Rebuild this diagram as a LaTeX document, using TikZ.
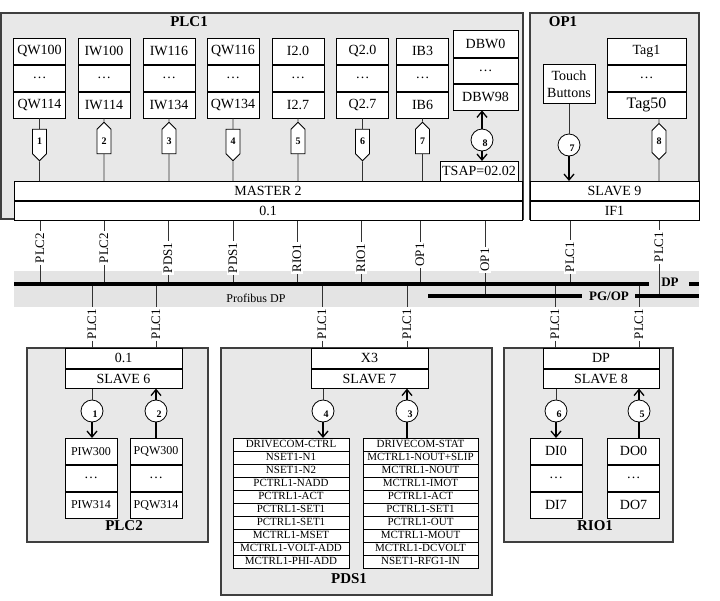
\documentclass[tikz,border=0pt]{standalone}
\usepackage{fontspec}
\setmainfont{Liberation Serif}
\usepackage{tikz}
\usetikzlibrary{arrows.meta, positioning, shapes.symbols, calc}
\usepackage{xcolor}
\definecolor{GFill}{HTML}{E8E8E8}
\definecolor{GLine}{HTML}{3F3F3F}
\definecolor{BusGray}{HTML}{E4E4E4}

\begin{document}
\begin{tikzpicture}[x=1pt, y=-1pt, >={Straight Barb[length=6pt, width=10pt]},
  font=\fontsize{14}{17}\selectfont,
  grpbox/.style={draw=GLine, fill=GFill, line width=1.3pt},
  grplabel/.style={font=\fontsize{15}{17}\selectfont\bfseries},
  regcell/.style={draw, fill=white, line width=0.8pt, minimum width=52pt, minimum height=26pt, inner sep=0pt, anchor=north},
  slotbar/.style={draw, fill=white, line width=0.8pt, minimum height=19pt, inner sep=0pt, anchor=north},
  listrow/.style={draw, fill=white, line width=0.8pt, minimum height=13pt, text height=8pt, text depth=2pt, inner sep=0pt, anchor=north, font=\fontsize{11}{12}\selectfont},
  sigtag/.style={signal, draw, fill=white, line width=0.8pt, signal pointer angle=90, minimum width=14pt, minimum height=27pt, inner sep=0pt, font=\fontsize{10}{12}\selectfont\bfseries},
  hubcirc/.style={circle, draw, fill=white, line width=0.8pt, minimum size=22pt, inner sep=0pt},
  circnum/.style={font=\fontsize{10}{12}\selectfont\bfseries, inner sep=0pt},
  wire/.style={line width=0.9pt, black!80},
  flowline/.style={line width=1.3pt},
  buslabel/.style={rotate=90, fill=white, inner sep=1.5pt, font=\fontsize{13}{15}\selectfont},
  busline/.style={line width=3.5pt}
]
  \useasboundingbox (0,0) rectangle (720,600);

  % PLC1
  \draw[grpbox] (1,13) rectangle (523,219);
  \node[grplabel] (plc1) at (189,22) {PLC1};
  \node[slotbar, minimum width=508pt] (master) at (268,181) {MASTER 2};
  \node[slotbar, minimum width=508pt] (maddr) at (master.south) {0.1};
  \foreach \n/\px/\ta/\tb/\sd in {1/39.5/QW100/QW114/south, 2/104/IW100/IW114/north,
      3/169/IW116/IW134/north, 4/233/QW116/QW134/south, 5/298/I2.0/I2.7/north,
      6/362.5/Q2.0/Q2.7/south, 7/422.5/IB3/IB6/north}{
    \node[regcell] (ra\n) at (\px,38) {\ta};
    \node[regcell] (rb\n) at (ra\n.south) {\dots};
    \node[regcell] (rc\n) at (rb\n.south) {\tb};
    \node[sigtag, signal to=\sd] (sg\n) at (\px,141.5) {\n};
    \draw[wire] (rc\n) -- (sg\n) -- (sg\n |- master.north);
  }
  \node[regcell, minimum width=65pt, minimum height=27pt] (dbwA) at (485.5,30) {DBW0};
  \node[regcell, minimum width=65pt, minimum height=25pt] (dbwB) at (dbwA.south) {\dots};
  \node[regcell, minimum width=65pt] (dbwC) at (dbwB.south) {DBW98};
  \node[regcell, minimum width=78pt, minimum height=20pt] (tsap) at (479,161) {TSAP=02.02};
  \node[hubcirc] (hc8) at (482,140) {};
  \node[circnum] (n8) at ($(hc8)+(3,3)$) {8};
  \draw[flowline, ->] (hc8) -- (hc8 |- dbwC.south);
  \draw[flowline, ->] (hc8) -- (hc8 |- tsap.north);

  % OP1
  \draw[grpbox] (530,13) rectangle (699,219);
  \node[grplabel] (op1) at (563,22) {OP1};
  \node[slotbar, minimum width=169pt] (slave9) at (614.5,181) {SLAVE 9};
  \node[slotbar, minimum width=169pt] (if1) at (slave9.south) {IF1};
  \node[regcell, minimum height=39pt, align=center] (touch) at (569,64) {Touch\\Buttons};
  \node[regcell, minimum width=79pt] (tgA) at (646.5,38) {Tag1};
  \node[regcell, minimum width=79pt] (tgB) at (tgA.south) {\dots};
  \node[regcell, minimum width=79pt, font=\fontsize{16}{18}\selectfont] (tgC) at (tgB.south) {Tag50};
  \node[hubcirc] (hc7) at (569,145) {};
  \node[circnum] (n7) at ($(hc7)+(3,3)$) {7};
  \node[sigtag, signal to=north and south] (sg8) at (659,141.5) {8};
  \draw[wire] (touch) -- (hc7);
  \draw[flowline, ->] (hc7) -- (hc7 |- slave9.north);
  \draw[wire] (sg8 |- tgC.south) -- (sg8) -- (sg8 |- slave9.north);

  % Profibus
  \fill[BusGray] (14,271) rectangle (699,307);
  \node[font=\fontsize{12}{14}\selectfont] (pdp) at (256,298) {Profibus DP};
  \node[font=\fontsize{13}{15}\selectfont\bfseries] (dpname) at (670,282) {DP};
  \node[font=\fontsize{13}{15}\selectfont\bfseries] (pgname) at (609,296) {PG/OP};
  \coordinate (dpA) at (14,284);
  \coordinate (dpB) at (649,284);
  \coordinate (dpC) at (689,284);
  \coordinate (dpD) at (699,284);
  \coordinate (pgA) at (428,296);
  \coordinate (pgB) at (582,296);
  \coordinate (pgC) at (635,296);
  \coordinate (pgD) at (699,296);

  % PLC2
  \draw[grpbox] (27,348) rectangle (208,542);
  \node[grplabel] (plc2) at (124,526) {PLC2};
  \node[slotbar, minimum width=117pt, minimum height=20pt] (slv6id) at (123.5,348) {0.1};
  \node[slotbar, minimum width=117pt] (slv6) at (slv6id.south) {SLAVE 6};
  \node[hubcirc] (hc1) at (92,411) {};
  \node[circnum] (n1) at ($(hc1)+(3,3)$) {1};
  \node[hubcirc] (hc2) at (156,411) {};
  \node[circnum] (n2) at ($(hc2)+(3,3)$) {2};
  \node[regcell, font=\fontsize{12}{14}\selectfont] (piwA) at (91,438) {PIW300};
  \node[regcell] (piwB) at (piwA.south) {\dots};
  \node[regcell, font=\fontsize{12}{14}\selectfont] (piwC) at (piwB.south) {PIW314};
  \node[regcell, font=\fontsize{12}{14}\selectfont] (pqwA) at (156,438) {PQW300};
  \node[regcell] (pqwB) at (pqwA.south) {\dots};
  \node[regcell, font=\fontsize{12}{14}\selectfont] (pqwC) at (pqwB.south) {PQW314};
  \draw[wire] (hc1 |- slv6.south) -- (hc1);
  \draw[flowline, ->] (hc1) -- (hc1 |- piwA.north);
  \draw[flowline] (hc2 |- pqwA.north) -- (hc2);
  \draw[flowline, ->] (hc2) -- (hc2 |- slv6.south);

  % PDS1
  \draw[grpbox] (221,348) rectangle (492,595);
  \node[grplabel] (pds1) at (349,579) {PDS1};
  \node[slotbar, minimum width=117pt, minimum height=20pt] (slv7id) at (369.5,348) {X3};
  \node[slotbar, minimum width=117pt] (slv7) at (slv7id.south) {SLAVE 7};
  \node[hubcirc] (hc4) at (323,411) {};
  \node[circnum] (n4) at ($(hc4)+(3,3)$) {4};
  \node[hubcirc] (hc3) at (407,411) {};
  \node[circnum] (n3) at ($(hc3)+(3,3)$) {3};
  \foreach \t [count=\i] in {DRIVECOM-CTRL, NSET1-N1, NSET1-N2, PCTRL1-NADD, PCTRL1-ACT,
      PCTRL1-SET1, PCTRL1-SET1, MCTRL1-MSET, MCTRL1-VOLT-ADD, MCTRL1-PHI-ADD}
    \node[listrow, minimum width=116pt] (ctl\i) at (291,{438+13*(\i-1)}) {\t};
  \foreach \t [count=\i] in {DRIVECOM-STAT, MCTRL1-NOUT+SLIP, MCTRL1-NOUT, MCTRL1-IMOT, PCTRL1-ACT,
      PCTRL1-SET1, PCTRL1-OUT, MCTRL1-MOUT, MCTRL1-DCVOLT, NSET1-RFG1-IN}
    \node[listrow, minimum width=115pt] (sts\i) at (420.5,{438+13*(\i-1)}) {\t};
  \draw[wire] (hc4 |- slv7.south) -- (hc4);
  \draw[flowline, ->] (hc4) -- (hc4 |- ctl1.north);
  \draw[flowline] (hc3 |- sts1.north) -- (hc3);
  \draw[flowline, ->] (hc3) -- (hc3 |- slv7.south);

  % RIO1
  \draw[grpbox] (504,348) rectangle (673,542);
  \node[grplabel] (rio1) at (595,526) {RIO1};
  \node[slotbar, minimum width=116pt, minimum height=20pt] (slv8id) at (601,348) {DP};
  \node[slotbar, minimum width=116pt] (slv8) at (slv8id.south) {SLAVE 8};
  \node[hubcirc] (hc6) at (556,411) {};
  \node[circnum] (n6) at ($(hc6)+(3,3)$) {6};
  \node[hubcirc] (hc5) at (639,411) {};
  \node[circnum] (n5) at ($(hc5)+(3,3)$) {5};
  \node[regcell] (diA) at (556,438) {DI0};
  \node[regcell] (diB) at (diA.south) {\dots};
  \node[regcell] (diC) at (diB.south) {DI7};
  \node[regcell] (doA) at (633.5,438) {DO0};
  \node[regcell] (doB) at (doA.south) {\dots};
  \node[regcell] (doC) at (doB.south) {DO7};
  \draw[wire] (hc6 |- slv8.south) -- (hc6);
  \draw[flowline, ->] (hc6) -- (hc6 |- diA.north);
  \draw[flowline] (hc5 |- doA.north) -- (hc5);
  \draw[flowline, ->] (hc5) -- (hc5 |- slv8.south);

  % Drops to the bus
  \foreach \n/\px/\py/\t/\src/\dst in {1/40/248/PLC2/maddr/dpA, 2/104/248/PLC2/maddr/dpA,
      3/168/258/PDS1/maddr/dpA, 4/233/258/PDS1/maddr/dpA, 5/297/258/RIO1/maddr/dpA,
      6/361/258/RIO1/maddr/dpA, 7/420/255/OP1/maddr/dpA, 8/485/260/OP1/maddr/pgA,
      9/570/257/PLC1/if1/dpA, 10/659/247/PLC1/if1/pgA}{
    \node[buslabel] (up\n) at (\px,\py) {\t};
    \draw[wire] (up\n |- \src.south) -- (up\n.east);
    \draw[wire] (up\n.west) -- (up\n |- \dst);
  }
  \foreach \n/\px/\dst in {1/92/slv6id, 2/156/slv6id, 3/322/slv7id, 4/407/slv7id,
      5/555/slv8id, 6/639/slv8id}{
    \node[buslabel] (dn\n) at (\px,324) {PLC1};
    \draw[wire] (dn\n |- dpA) -- (dn\n.east);
    \draw[wire] (dn\n.west) -- (dn\n |- \dst.north);
  }

  % Bus lines
  \draw[busline] (dpA) -- (dpB);
  \draw[busline] (dpC) -- (dpD);
  \draw[busline] (pgA) -- (pgB);
  \draw[busline] (pgC) -- (pgD);
\end{tikzpicture}
\end{document}
